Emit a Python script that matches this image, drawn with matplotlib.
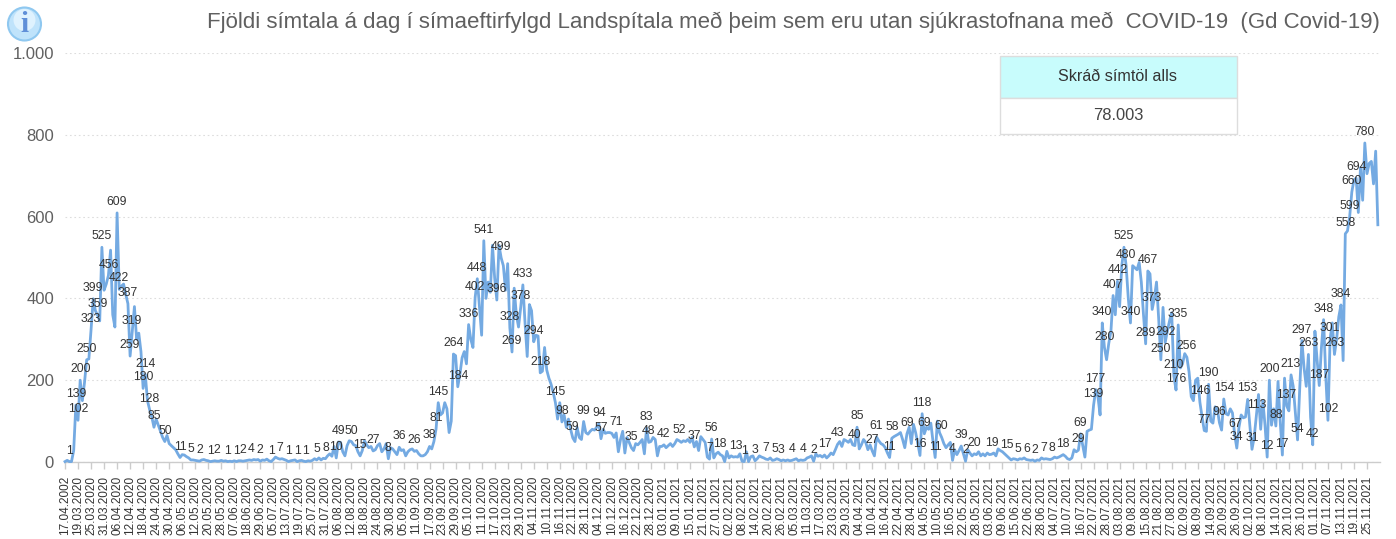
import matplotlib
matplotlib.use('Agg')
from matplotlib import pyplot as plt
from matplotlib.patches import Circle, Rectangle

plt.rcParams['font.family'] = ['Liberation Sans', 'DejaVu Sans']

title = 'Fjöldi símtala á dag í símaeftirfylgd Landspítala með þeim sem eru utan sjúkrastofnana með  COVID-19  (Gd Covid-19)'
box_head = 'Skráð símtöl alls'
box_value = '78.003'

y_ticks = [0, 200, 400, 600, 800, 1000]
y_tick_labels = ['0', '200', '400', '600', '800', '1.000']

# every 6th point gets a date on the axis
dates = ['17.04.2002', '19.03.2020', '25.03.2020', '31.03.2020', '06.04.2020', '12.04.2020', '18.04.2020',
         '24.04.2020', '30.04.2020', '06.05.2020', '12.05.2020', '20.05.2020', '28.05.2020', '07.06.2020',
         '18.06.2020', '29.06.2020', '05.07.2020', '13.07.2020', '19.07.2020', '25.07.2020', '31.07.2020',
         '06.08.2020', '12.08.2020', '18.08.2020', '24.08.2020', '30.08.2020', '05.09.2020', '11.09.2020',
         '17.09.2020', '23.09.2020', '29.09.2020', '05.10.2020', '11.10.2020', '17.10.2020', '23.10.2020',
         '29.10.2020', '04.11.2020', '10.11.2020', '16.11.2020', '22.11.2020', '28.11.2020', '04.12.2020',
         '10.12.2020', '16.12.2020', '22.12.2020', '28.12.2020', '03.01.2021', '09.01.2021', '15.01.2021',
         '21.01.2021', '27.01.2021', '02.02.2021', '08.02.2021', '14.02.2021', '20.02.2021', '26.02.2021',
         '05.03.2021', '11.03.2021', '17.03.2021', '23.03.2021', '29.03.2021', '04.04.2021', '10.04.2021',
         '16.04.2021', '22.04.2021', '28.04.2021', '04.05.2021', '10.05.2021', '16.05.2021', '22.05.2021',
         '28.05.2021', '03.06.2021', '09.06.2021', '15.06.2021', '22.06.2021', '28.06.2021', '04.07.2021',
         '10.07.2021', '16.07.2021', '22.07.2021', '28.07.2021', '03.08.2021', '09.08.2021', '15.08.2021',
         '21.08.2021', '27.08.2021', '02.09.2021', '08.09.2021', '14.09.2021', '20.09.2021', '26.09.2021',
         '02.10.2021', '08.10.2021', '14.10.2021', '20.10.2021', '26.10.2021', '01.11.2021', '07.11.2021',
         '13.11.2021', '19.11.2021', '25.11.2021']

# daily calls, one row per tick interval
calls = [1, 4, 1, 1, 28, 139,
         102, 200, 150, 195, 250, 252,
         323, 399, 370, 359, 345, 525,
         420, 435, 456, 518, 360, 330,
         609, 422, 430, 435, 410, 387,
         259, 319, 380, 300, 315, 270,
         180, 214, 150, 128, 110, 85,
         105, 90, 75, 60, 50, 65,
         45, 40, 35, 30, 20, 11,
         18, 17, 13, 10, 5, 5,
         4, 3, 2, 5, 6, 4,
         3, 1, 2, 3, 2, 2,
         4, 2, 3, 1, 2, 1,
         3, 1, 3, 3, 2, 3,
         4, 5, 4, 6, 5, 6,
         2, 5, 4, 7, 3, 1,
         6, 12, 9, 7, 8, 6,
         4, 1, 3, 4, 5, 1,
         3, 4, 2, 1, 3, 2,
         4, 8, 5, 10, 5, 9,
         8, 15, 20, 14, 38, 10,
         49, 48, 25, 15, 40, 52,
         50, 42, 40, 25, 15, 28,
         52, 42, 35, 38, 27, 30,
         40, 45, 25, 32, 45, 8,
         35, 32, 25, 18, 36, 28,
         30, 15, 25, 30, 32, 26,
         28, 20, 15, 15, 18, 25,
         38, 32, 50, 81, 145, 115,
         120, 145, 130, 72, 100, 264,
         260, 184, 215, 255, 270, 240,
         336, 300, 280, 402, 448, 380,
         310, 541, 400, 440, 415, 530,
         450, 396, 530, 499, 480, 420,
         485, 328, 269, 425, 360, 330,
         378, 433, 340, 258, 385, 370,
         294, 310, 308, 218, 222, 280,
         225, 205, 190, 170, 145, 105,
         145, 98, 115, 85, 105, 80,
         59, 50, 85, 60, 55, 99,
         72, 68, 75, 80, 78, 85,
         94, 57, 80, 70, 72, 72,
         70, 60, 71, 25, 55, 75,
         22, 60, 48, 35, 28, 45,
         42, 48, 55, 20, 83, 48,
         50, 60, 55, 15, 38, 38,
         42, 35, 40, 45, 38, 45,
         55, 52, 48, 52, 50, 55,
         48, 60, 37, 50, 28, 62,
         55, 48, 12, 7, 56, 10,
         20, 24, 18, 15, 1, 26,
         10, 15, 12, 13, 12, 20,
         2, 1, 25, 1, 13, 15,
         3, 8, 15, 12, 10, 7,
         6, 10, 4, 5, 8, 6,
         3, 5, 3, 5, 3, 4,
         6, 8, 3, 5, 4, 5,
         10, 12, 15, 2, 20, 14,
         16, 12, 17, 10, 15, 22,
         18, 30, 43, 50, 38, 55,
         52, 48, 55, 42, 40, 85,
         32, 42, 55, 48, 30, 42,
         27, 15, 61, 52, 45, 42,
         35, 22, 11, 58, 62, 65,
         68, 72, 55, 35, 69, 85,
         45, 92, 72, 45, 16, 118,
         69, 85, 80, 95, 50, 11,
         100, 72, 60, 45, 35, 42,
         48, 4, 30, 18, 28, 39,
         20, 2, 30, 22, 15, 20,
         18, 25, 15, 20, 15, 22,
         18, 19, 22, 15, 32, 28,
         25, 20, 15, 10, 5, 8,
         7, 5, 8, 7, 10, 6,
         5, 4, 5, 2, 5, 4,
         10, 7, 8, 7, 6, 8,
         12, 10, 12, 15, 18, 14,
         8, 6, 10, 30, 25, 29,
         69, 40, 12, 75, 78, 80,
         139, 177, 160, 115, 340, 280,
         250, 290, 320, 407, 360, 442,
         380, 480, 525, 480, 400, 340,
         480, 475, 470, 488, 440, 360,
         289, 467, 460, 373, 400, 440,
         350, 250, 378, 292, 320, 345,
         365, 210, 176, 335, 230, 240,
         265, 256, 220, 160, 150, 200,
         205, 146, 110, 77, 75, 190,
         100, 95, 135, 130, 96, 78,
         154, 118, 115, 130, 120, 67,
         34, 85, 115, 108, 110, 153,
         90, 31, 60, 113, 165, 80,
         150, 90, 12, 200, 90, 130,
         88, 197, 100, 17, 205, 137,
         125, 213, 185, 120, 54, 180,
         297, 230, 185, 263, 110, 42,
         320, 250, 187, 280, 348, 210,
         102, 301, 340, 263, 300, 355,
         384, 248, 558, 565, 599, 660,
         690, 694, 610, 720, 640, 780,
         705, 730, 735, 680, 760, 580]

# points that carry a number above them
labelled = [2, 5, 6, 7, 10, 12, 13, 15, 17, 20, 24, 25, 29, 30, 31, 36, 37, 39, 41, 46, 53, 58, 62, 67, 70,
            75, 79, 82, 86, 90, 95, 99, 103, 107, 111, 116, 120, 125, 126, 132, 136, 142, 149, 154, 161,
            168, 171, 172, 179, 181, 186, 189, 190, 193, 199, 201, 205, 206, 210, 211, 216, 219, 226, 229,
            234, 239, 246, 247, 254, 261, 268, 269, 276, 283, 290, 297, 298, 302, 309, 313, 318, 323, 327,
            330, 335, 340, 345, 350, 356, 364, 365, 372, 374, 380, 381, 388, 394, 395, 396, 401, 404, 409,
            413, 415, 419, 427, 434, 439, 443, 447, 451, 455, 460, 467, 468, 474, 475, 478, 479, 483, 485,
            488, 489, 491, 498, 499, 501, 505, 507, 511, 512, 513, 517, 523, 525, 527, 532, 534, 539, 540,
            545, 547, 549, 554, 555, 558, 561, 563, 565, 568, 570, 573, 575, 578, 580, 582, 583, 585, 588,
            590, 592, 593, 595, 599]

W, H = 1396, 539

if __name__ == '__main__':
    fig = plt.figure(figsize=(W / 100, H / 100), dpi=100)
    ax = fig.add_axes([65 / W, 1 - 462 / H, (1380 - 65) / W, (462 - 53) / H])
    ax.set_xlim(0, (1380 - 65) / 2.17)
    ax.set_ylim(0, 1000)

    ax.plot(range(len(calls)), calls, color='#74aae2', lw=2.0, solid_joinstyle='round', clip_on=False, zorder=3)

    for i in labelled:
        ax.annotate(str(calls[i]), (i, calls[i]), xytext=(0, 7.9), textcoords='offset points', ha='center',
                    va='center', fontsize=8.8, color='#333333', zorder=4, annotation_clip=False)

    for side in ['top', 'right', 'left']:
        ax.spines[side].set_visible(False)
    ax.spines['bottom'].set_color('#cccccc')
    ax.spines['bottom'].set_linewidth(1)

    ax.set_yticks(y_ticks)
    ax.set_yticklabels(y_tick_labels, fontsize=12, color='#606060')
    ax.tick_params(axis='y', length=0, pad=8)
    ax.yaxis.grid(True, color='#dddddd', linestyle=(0, (1.5, 2.5)), linewidth=0.8)
    ax.set_axisbelow(True)

    ax.set_xticks(range(0, len(dates) * 6, 6))
    ax.set_xticklabels(dates, rotation=90, fontsize=8.5, color='#333333')
    ax.tick_params(axis='x', length=5, width=1, color='#cccccc', pad=5)

    fig.text(1380 / W, 1 - 22 / H, title, ha='right', va='center', fontsize=16.03, color='#606060')

    # summary box
    fig.patches.append(Rectangle((1000 / W, 1 - 98 / H), 237 / W, 42 / H, transform=fig.transFigure,
                                 facecolor='#c8fcfc', edgecolor='#dddddd', lw=1))
    fig.patches.append(Rectangle((1000 / W, 1 - 134 / H), 237 / W, 36 / H, transform=fig.transFigure,
                                 facecolor='white', edgecolor='#dddddd', lw=1, zorder=2))
    fig.text(1118 / W, 1 - 77 / H, box_head, ha='center', va='center', fontsize=11.6, color='#333333')
    fig.text(1118 / W, 1 - 116 / H, box_value, ha='center', va='center', fontsize=11.9, color='#444444')

    # info icon
    icon = fig.add_axes([0, 1 - 50 / H, 50 / W, 50 / H])
    icon.set_xlim(0, 50)
    icon.set_ylim(50, 0)
    icon.axis('off')
    icon.add_patch(Circle((24.5, 24), 16.5, facecolor='#bfe3fb', edgecolor='#8fc8f0', lw=1.5))
    icon.add_patch(Circle((24.5, 20), 11, facecolor='#dff2fe', edgecolor='none'))
    icon.text(24.5, 25, 'i', ha='center', va='center', fontsize=21, fontweight='bold',
              family='Liberation Serif', color='#5f8fd8')

    fig.savefig('out.png', dpi=100)
